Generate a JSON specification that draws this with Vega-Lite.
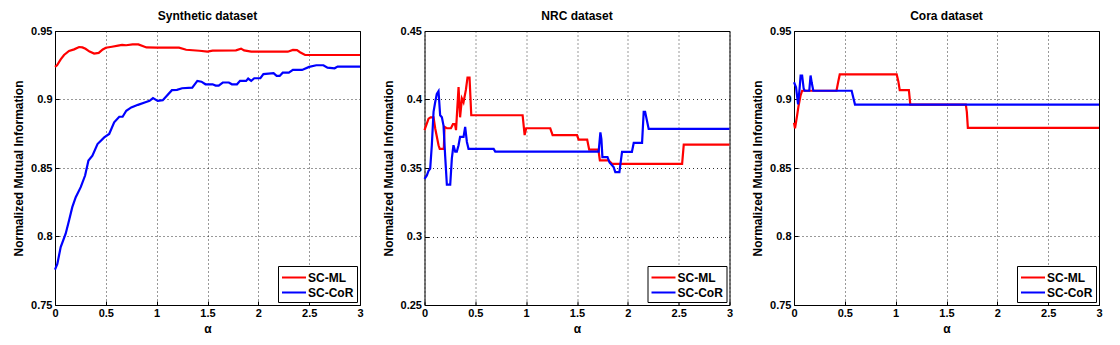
{
"$schema": "https://vega.github.io/schema/vega-lite/v6.json",
"background": "#ffffff",
"padding": {"left": 12, "top": 9, "right": 0, "bottom": 0},
"bounds": "flush",
"spacing": 64.5,
"datasets": {
"syn": [
{"m":"SC-ML","a":0,"v":0.9238},{"m":"SC-ML","a":0.02,"v":0.925},{"m":"SC-ML","a":0.056,"v":0.9293},{"m":"SC-ML","a":0.089,"v":0.9325},{"m":"SC-ML","a":0.138,"v":0.9354},{"m":"SC-ML","a":0.188,"v":0.9366},{"m":"SC-ML","a":0.237,"v":0.9383},{"m":"SC-ML","a":0.27,"v":0.938},{"m":"SC-ML","a":0.3,"v":0.937},{"m":"SC-ML","a":0.34,"v":0.935},{"m":"SC-ML","a":0.385,"v":0.9335},{"m":"SC-ML","a":0.43,"v":0.934},{"m":"SC-ML","a":0.47,"v":0.9365},{"m":"SC-ML","a":0.5,"v":0.9378},{"m":"SC-ML","a":0.56,"v":0.9385},{"m":"SC-ML","a":0.62,"v":0.9393},{"m":"SC-ML","a":0.66,"v":0.9398},{"m":"SC-ML","a":0.7,"v":0.9396},{"m":"SC-ML","a":0.763,"v":0.9403},{"m":"SC-ML","a":0.82,"v":0.9402},{"m":"SC-ML","a":0.9,"v":0.938},{"m":"SC-ML","a":1.0,"v":0.9378},{"m":"SC-ML","a":1.22,"v":0.9378},{"m":"SC-ML","a":1.29,"v":0.9363},{"m":"SC-ML","a":1.42,"v":0.9356},{"m":"SC-ML","a":1.5,"v":0.9349},{"m":"SC-ML","a":1.55,"v":0.9357},{"m":"SC-ML","a":1.78,"v":0.9359},{"m":"SC-ML","a":1.83,"v":0.9371},{"m":"SC-ML","a":1.86,"v":0.9358},{"m":"SC-ML","a":1.93,"v":0.9349},{"m":"SC-ML","a":2.29,"v":0.9349},{"m":"SC-ML","a":2.34,"v":0.9362},{"m":"SC-ML","a":2.38,"v":0.936},{"m":"SC-ML","a":2.41,"v":0.9345},{"m":"SC-ML","a":2.46,"v":0.9325},{"m":"SC-ML","a":3.0,"v":0.9325},
{"m":"SC-CoR","a":0,"v":0.7758},{"m":"SC-CoR","a":0.023,"v":0.78},{"m":"SC-CoR","a":0.056,"v":0.7923},{"m":"SC-CoR","a":0.105,"v":0.802},{"m":"SC-CoR","a":0.138,"v":0.8117},{"m":"SC-CoR","a":0.17,"v":0.8214},{"m":"SC-CoR","a":0.204,"v":0.8287},{"m":"SC-CoR","a":0.253,"v":0.836},{"m":"SC-CoR","a":0.296,"v":0.8445},{"m":"SC-CoR","a":0.329,"v":0.8554},{"m":"SC-CoR","a":0.368,"v":0.859},{"m":"SC-CoR","a":0.418,"v":0.8675},{"m":"SC-CoR","a":0.484,"v":0.8723},{"m":"SC-CoR","a":0.533,"v":0.8748},{"m":"SC-CoR","a":0.582,"v":0.8833},{"m":"SC-CoR","a":0.632,"v":0.8874},{"m":"SC-CoR","a":0.665,"v":0.8874},{"m":"SC-CoR","a":0.701,"v":0.8918},{"m":"SC-CoR","a":0.75,"v":0.8942},{"m":"SC-CoR","a":0.816,"v":0.8961},{"m":"SC-CoR","a":0.882,"v":0.8978},{"m":"SC-CoR","a":0.93,"v":0.899},{"m":"SC-CoR","a":0.964,"v":0.901},{"m":"SC-CoR","a":1.01,"v":0.899},{"m":"SC-CoR","a":1.06,"v":0.8995},{"m":"SC-CoR","a":1.1,"v":0.9027},{"m":"SC-CoR","a":1.15,"v":0.9068},{"m":"SC-CoR","a":1.2,"v":0.907},{"m":"SC-CoR","a":1.25,"v":0.9082},{"m":"SC-CoR","a":1.35,"v":0.9087},{"m":"SC-CoR","a":1.4,"v":0.9136},{"m":"SC-CoR","a":1.44,"v":0.913},{"m":"SC-CoR","a":1.48,"v":0.9111},{"m":"SC-CoR","a":1.55,"v":0.9111},{"m":"SC-CoR","a":1.58,"v":0.9102},{"m":"SC-CoR","a":1.61,"v":0.9102},{"m":"SC-CoR","a":1.65,"v":0.9124},{"m":"SC-CoR","a":1.71,"v":0.9124},{"m":"SC-CoR","a":1.74,"v":0.9111},{"m":"SC-CoR","a":1.79,"v":0.9111},{"m":"SC-CoR","a":1.82,"v":0.9136},{"m":"SC-CoR","a":1.88,"v":0.9136},{"m":"SC-CoR","a":1.9,"v":0.9153},{"m":"SC-CoR","a":1.93,"v":0.9136},{"m":"SC-CoR","a":1.96,"v":0.9155},{"m":"SC-CoR","a":2.02,"v":0.9155},{"m":"SC-CoR","a":2.05,"v":0.9185},{"m":"SC-CoR","a":2.15,"v":0.9192},{"m":"SC-CoR","a":2.18,"v":0.9172},{"m":"SC-CoR","a":2.21,"v":0.9172},{"m":"SC-CoR","a":2.24,"v":0.9196},{"m":"SC-CoR","a":2.3,"v":0.9196},{"m":"SC-CoR","a":2.34,"v":0.9216},{"m":"SC-CoR","a":2.43,"v":0.9216},{"m":"SC-CoR","a":2.5,"v":0.9238},{"m":"SC-CoR","a":2.57,"v":0.925},{"m":"SC-CoR","a":2.64,"v":0.925},{"m":"SC-CoR","a":2.68,"v":0.9232},{"m":"SC-CoR","a":2.75,"v":0.9228},{"m":"SC-CoR","a":2.78,"v":0.924},{"m":"SC-CoR","a":3.0,"v":0.924}
],
"nrc": [
{"m":"SC-ML","a":0,"v":0.3776},{"m":"SC-ML","a":0.04,"v":0.386},{"m":"SC-ML","a":0.06,"v":0.387},{"m":"SC-ML","a":0.089,"v":0.387},{"m":"SC-ML","a":0.105,"v":0.379},{"m":"SC-ML","a":0.138,"v":0.3666},{"m":"SC-ML","a":0.15,"v":0.364},{"m":"SC-ML","a":0.19,"v":0.364},{"m":"SC-ML","a":0.197,"v":0.38},{"m":"SC-ML","a":0.22,"v":0.379},{"m":"SC-ML","a":0.26,"v":0.379},{"m":"SC-ML","a":0.28,"v":0.382},{"m":"SC-ML","a":0.3,"v":0.382},{"m":"SC-ML","a":0.31,"v":0.3776},{"m":"SC-ML","a":0.335,"v":0.409},{"m":"SC-ML","a":0.35,"v":0.387},{"m":"SC-ML","a":0.368,"v":0.4007},{"m":"SC-ML","a":0.384,"v":0.398},{"m":"SC-ML","a":0.407,"v":0.407},{"m":"SC-ML","a":0.423,"v":0.416},{"m":"SC-ML","a":0.443,"v":0.416},{"m":"SC-ML","a":0.46,"v":0.3885},{"m":"SC-ML","a":0.965,"v":0.3885},{"m":"SC-ML","a":0.985,"v":0.374},{"m":"SC-ML","a":1.0,"v":0.379},{"m":"SC-ML","a":1.237,"v":0.379},{"m":"SC-ML","a":1.26,"v":0.374},{"m":"SC-ML","a":1.5,"v":0.374},{"m":"SC-ML","a":1.516,"v":0.3707},{"m":"SC-ML","a":1.6,"v":0.3707},{"m":"SC-ML","a":1.62,"v":0.3634},{"m":"SC-ML","a":1.71,"v":0.3634},{"m":"SC-ML","a":1.725,"v":0.3556},{"m":"SC-ML","a":1.81,"v":0.3556},{"m":"SC-ML","a":1.845,"v":0.353},{"m":"SC-ML","a":2.534,"v":0.353},{"m":"SC-ML","a":2.55,"v":0.367},{"m":"SC-ML","a":3.0,"v":0.367},
{"m":"SC-CoR","a":0,"v":0.342},{"m":"SC-CoR","a":0.023,"v":0.3446},{"m":"SC-CoR","a":0.04,"v":0.348},{"m":"SC-CoR","a":0.056,"v":0.3495},{"m":"SC-CoR","a":0.072,"v":0.3666},{"m":"SC-CoR","a":0.089,"v":0.391},{"m":"SC-CoR","a":0.105,"v":0.398},{"m":"SC-CoR","a":0.121,"v":0.404},{"m":"SC-CoR","a":0.138,"v":0.406},{"m":"SC-CoR","a":0.154,"v":0.3885},{"m":"SC-CoR","a":0.171,"v":0.387},{"m":"SC-CoR","a":0.187,"v":0.381},{"m":"SC-CoR","a":0.203,"v":0.359},{"m":"SC-CoR","a":0.22,"v":0.3378},{"m":"SC-CoR","a":0.253,"v":0.3378},{"m":"SC-CoR","a":0.269,"v":0.357},{"m":"SC-CoR","a":0.285,"v":0.3666},{"m":"SC-CoR","a":0.302,"v":0.362},{"m":"SC-CoR","a":0.318,"v":0.362},{"m":"SC-CoR","a":0.335,"v":0.3666},{"m":"SC-CoR","a":0.35,"v":0.3727},{"m":"SC-CoR","a":0.384,"v":0.3727},{"m":"SC-CoR","a":0.4,"v":0.38},{"m":"SC-CoR","a":0.417,"v":0.369},{"m":"SC-CoR","a":0.433,"v":0.364},{"m":"SC-CoR","a":0.68,"v":0.364},{"m":"SC-CoR","a":0.696,"v":0.362},{"m":"SC-CoR","a":1.713,"v":0.362},{"m":"SC-CoR","a":1.73,"v":0.376},{"m":"SC-CoR","a":1.74,"v":0.371},{"m":"SC-CoR","a":1.75,"v":0.358},{"m":"SC-CoR","a":1.8,"v":0.358},{"m":"SC-CoR","a":1.82,"v":0.354},{"m":"SC-CoR","a":1.86,"v":0.3507},{"m":"SC-CoR","a":1.877,"v":0.347},{"m":"SC-CoR","a":1.917,"v":0.347},{"m":"SC-CoR","a":1.943,"v":0.3617},{"m":"SC-CoR","a":2.04,"v":0.3617},{"m":"SC-CoR","a":2.058,"v":0.3683},{"m":"SC-CoR","a":2.14,"v":0.3683},{"m":"SC-CoR","a":2.156,"v":0.391},{"m":"SC-CoR","a":2.17,"v":0.391},{"m":"SC-CoR","a":2.205,"v":0.3785},{"m":"SC-CoR","a":3.0,"v":0.3785}
],
"cora": [
{"m":"SC-ML","a":0,"v":0.883},{"m":"SC-ML","a":0.01,"v":0.879},{"m":"SC-ML","a":0.03,"v":0.888},{"m":"SC-ML","a":0.045,"v":0.8955},{"m":"SC-ML","a":0.065,"v":0.903},{"m":"SC-ML","a":0.08,"v":0.9064},{"m":"SC-ML","a":0.418,"v":0.9064},{"m":"SC-ML","a":0.435,"v":0.913},{"m":"SC-ML","a":0.45,"v":0.9183},{"m":"SC-ML","a":1.01,"v":0.9183},{"m":"SC-ML","a":1.026,"v":0.9134},{"m":"SC-ML","a":1.04,"v":0.9068},{"m":"SC-ML","a":1.13,"v":0.9068},{"m":"SC-ML","a":1.144,"v":0.8963},{"m":"SC-ML","a":1.69,"v":0.8963},{"m":"SC-ML","a":1.7,"v":0.891},{"m":"SC-ML","a":1.71,"v":0.8793},{"m":"SC-ML","a":3.0,"v":0.8793},
{"m":"SC-CoR","a":0,"v":0.9126},{"m":"SC-CoR","a":0.02,"v":0.909},{"m":"SC-CoR","a":0.04,"v":0.8965},{"m":"SC-CoR","a":0.055,"v":0.908},{"m":"SC-CoR","a":0.065,"v":0.9175},{"m":"SC-CoR","a":0.08,"v":0.9175},{"m":"SC-CoR","a":0.095,"v":0.908},{"m":"SC-CoR","a":0.105,"v":0.9064},{"m":"SC-CoR","a":0.15,"v":0.9064},{"m":"SC-CoR","a":0.163,"v":0.9175},{"m":"SC-CoR","a":0.175,"v":0.912},{"m":"SC-CoR","a":0.19,"v":0.9064},{"m":"SC-CoR","a":0.567,"v":0.9064},{"m":"SC-CoR","a":0.6,"v":0.8963},{"m":"SC-CoR","a":3.0,"v":0.8963}
]
},
"hconcat": [
{
"width": 305, "height": 274,
"data": {"name": "syn"},
"title": {"text": "Synthetic dataset"},
"mark": {"type": "line", "strokeWidth": 2.2},
"encoding": {
"x": {"field": "a", "type": "quantitative", "title": "α", "scale": {"domain": [0, 3], "nice": false}, "axis": {"values": [0, 0.5, 1, 1.5, 2, 2.5, 3], "format": ".1~f"}},
"y": {"field": "v", "type": "quantitative", "title": "Normalized Mutual Information", "scale": {"domain": [0.75, 0.95], "nice": false, "zero": false}, "axis": {"values": [0.75, 0.8, 0.85, 0.9, 0.95], "format": ".2~f"}},
"color": {"field": "m", "type": "nominal", "sort": null, "scale": {"domain": ["SC-ML", "SC-CoR"], "range": ["#ff0000", "#0000ff"]}, "legend": {"title": null}}
}
},
{
"width": 305, "height": 274,
"data": {"name": "nrc"},
"title": {"text": "NRC dataset"},
"mark": {"type": "line", "strokeWidth": 2.2},
"encoding": {
"x": {"field": "a", "type": "quantitative", "title": "α", "scale": {"domain": [0, 3], "nice": false}, "axis": {"values": [0, 0.5, 1, 1.5, 2, 2.5, 3], "format": ".1~f"}},
"y": {"field": "v", "type": "quantitative", "title": "Normalized Mutual Information", "scale": {"domain": [0.25, 0.45], "nice": false, "zero": false}, "axis": {"values": [0.25, 0.3, 0.35, 0.4, 0.45], "format": ".2~f"}},
"color": {"field": "m", "type": "nominal", "sort": null, "scale": {"domain": ["SC-ML", "SC-CoR"], "range": ["#ff0000", "#0000ff"]}, "legend": {"title": null}}
}
},
{
"width": 305, "height": 274,
"data": {"name": "cora"},
"title": {"text": "Cora dataset"},
"mark": {"type": "line", "strokeWidth": 2.2},
"encoding": {
"x": {"field": "a", "type": "quantitative", "title": "α", "scale": {"domain": [0, 3], "nice": false}, "axis": {"values": [0, 0.5, 1, 1.5, 2, 2.5, 3], "format": ".1~f"}},
"y": {"field": "v", "type": "quantitative", "title": "Normalized Mutual Information", "scale": {"domain": [0.75, 0.95], "nice": false, "zero": false}, "axis": {"values": [0.75, 0.8, 0.85, 0.9, 0.95], "format": ".2~f"}},
"color": {"field": "m", "type": "nominal", "sort": null, "scale": {"domain": ["SC-ML", "SC-CoR"], "range": ["#ff0000", "#0000ff"]}, "legend": {"title": null}}
}
}
],
"resolve": {"scale": {"x": "independent", "y": "independent", "color": "independent"}, "legend": {"color": "independent"}},
"config": {
"font": "Liberation Sans",
"view": {"stroke": "#000000", "strokeWidth": 1},
"axis": {"domain": false, "grid": true, "gridColor": "#000000", "gridDash": [1, 3], "gridOpacity": 0.8, "ticks": true, "tickColor": "#000000", "tickSize": -4, "labelFontWeight": "bold", "labelFontSize": 11, "labelColor": "#000000", "labelFlush": false, "labelOverlap": false, "titleFontWeight": "bold", "titleFontSize": 12, "titleColor": "#000000"},
"axisX": {"labelPadding": 6, "titlePadding": 5},
"axisY": {"labelPadding": 7, "titlePadding": 5},
"title": {"fontSize": 12, "fontWeight": "bold", "color": "#000000", "frame": "group", "offset": 2},
"legend": {"orient": "bottom-right", "offset": 3, "symbolType": "M-1,0H2.2", "symbolStrokeWidth": 2, "symbolSize": 225, "strokeColor": "#000000", "fillColor": "#ffffff", "padding": 3, "labelFontSize": 12, "labelFontWeight": "bold", "labelColor": "#000000", "rowPadding": 0, "labelOffset": 10, "cornerRadius": 0}
}
}
